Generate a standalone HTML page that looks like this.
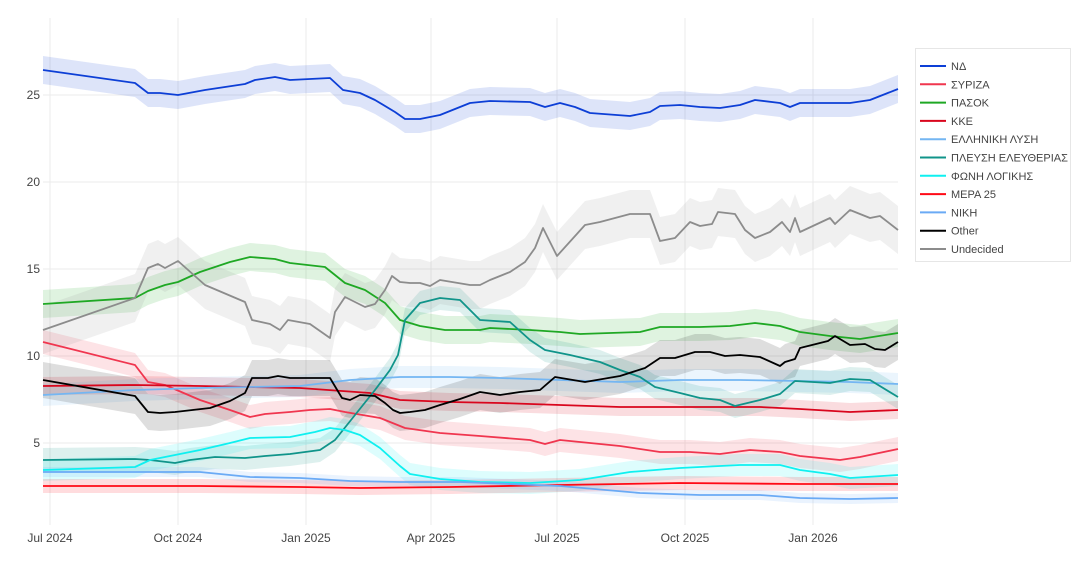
<!DOCTYPE html>
<html><head><meta charset="utf-8"><style>
body{margin:0;background:#fff;font-family:"Liberation Sans",sans-serif;}
svg text{font-family:"Liberation Sans","DejaVu Sans",sans-serif;font-size:12px;fill:#444;}
#leg text{font-size:11px;}
</style></head><body>
<svg id="s" width="1080" height="564" xmlns="http://www.w3.org/2000/svg">
<g stroke="#ebebeb" stroke-width="1">
<line x1="43" x2="898" y1="443" y2="443"/><line x1="43" x2="898" y1="356" y2="356"/>
<line x1="43" x2="898" y1="269" y2="269"/><line x1="43" x2="898" y1="182" y2="182"/>
<line x1="43" x2="898" y1="95" y2="95"/>
<line x1="50" x2="50" y1="18" y2="525"/><line x1="178" x2="178" y1="18" y2="525"/>
<line x1="306" x2="306" y1="18" y2="525"/><line x1="431" x2="431" y1="18" y2="525"/>
<line x1="557" x2="557" y1="18" y2="525"/><line x1="685" x2="685" y1="18" y2="525"/>
<line x1="813" x2="813" y1="18" y2="525"/>
</g>
<g text-anchor="end">
<text x="40" y="99">25</text><text x="40" y="186">20</text><text x="40" y="273">15</text>
<text x="40" y="360">10</text><text x="40" y="447">5</text>
</g>
<g text-anchor="middle">
<text x="50" y="542">Jul 2024</text><text x="178" y="542">Oct 2024</text><text x="306" y="542">Jan 2025</text>
<text x="431" y="542">Apr 2025</text><text x="557" y="542">Jul 2025</text><text x="685" y="542">Oct 2025</text>
<text x="813" y="542">Jan 2026</text>
</g>
<g id="bands"></g><g id="lines"></g>
<rect x="915.5" y="48.5" width="155" height="213" fill="#fff" stroke="#e6e6e6"/>
<g id="leg"></g>
</svg>
<script>
var S=[
["ΝΔ","#0d3fd6",14,[[43,70],[135,83],[148,93],[160,93],[178,95],[205,90],[245,84],[255,80],[275,77],[290,80],[330,78],[343,90],[360,93],[375,100],[395,112],[405,119],[420,119],[440,115],[470,103],[490,101],[530,102],[545,107],[560,103],[575,107],[590,113],[630,116],[650,112],[660,106],[680,105],[700,107],[720,108],[740,105],[755,100],[780,103],[790,107],[800,103],[830,103],[850,103],[870,100],[898,89]]],
["ΣΥΡΙΖΑ","#f0364f",12,[[43,342],[135,365],[148,382],[165,385],[200,400],[230,410],[250,417],[265,414],[290,412],[310,410],[330,409],[345,412],[380,418],[405,428],[440,433],[480,436],[530,440],[545,444],[560,440],[580,442],[620,446],[660,452],[690,452],[720,454],[750,450],[780,452],[800,456],[840,460],[860,457],[898,449]]],
["ΠΑΣΟΚ","#1fa824",14,[[43,304],[135,298],[148,291],[165,285],[178,282],[200,272],[230,262],[250,257],[275,259],[290,263],[325,267],[345,283],[365,290],[385,303],[400,320],[420,326],[445,330],[480,330],[490,328],[530,330],[560,332],[580,334],[640,332],[660,327],[700,327],[730,326],[755,323],[780,326],[800,332],[830,336],[860,339],[898,333]]],
["ΚΚΕ","#d9061d",9,[[43,386],[135,385],[200,386],[300,388],[370,393],[400,400],[450,402],[500,403],[560,405],[620,407],[700,407],[760,407],[800,409],[850,412],[898,410]]],
["ΕΛΛΗΝΙΚΗ ΛΥΣΗ","#74b6f2",11,[[43,395],[135,390],[200,388],[300,386],[350,380],[400,377],[450,377],[500,378],[560,380],[620,382],[680,380],[740,380],[800,381],[850,382],[898,384]]],
["ΠΛΕΥΣΗ ΕΛΕΥΘΕΡΙΑΣ","#10948a",12,[[43,460],[135,459],[150,460],[175,463],[190,460],[215,457],[245,458],[265,456],[290,454],[320,450],[335,440],[355,415],[375,390],[390,370],[398,355],[405,320],[420,303],[440,298],[460,300],[480,320],[510,322],[530,340],[545,350],[570,355],[600,362],[620,370],[640,377],[655,387],[680,393],[700,398],[720,400],[735,406],[760,400],[780,394],[795,381],[830,383],[850,379],[870,380],[898,397]]],
["ΦΩΝΗ ΛΟΓΙΚΗΣ","#0ff0f0",11,[[43,470],[135,467],[150,460],[175,455],[200,450],[230,443],[250,438],[290,437],[315,432],[330,428],[345,430],[360,435],[380,448],[400,466],[410,474],[440,479],[480,482],[530,483],[580,480],[630,472],[680,468],[740,465],[780,465],[800,470],[830,474],[850,478],[898,475]]],
["ΜΕΡΑ 25","#ff0a16",7,[[43,486],[200,486],[300,487],[360,488],[450,487],[560,485],[680,483],[800,484],[898,484]]],
["ΝΙΚΗ","#6aaaf5",5,[[43,472],[200,472],[250,477],[300,478],[350,481],[400,482],[460,482],[560,486],[640,493],[700,495],[760,495],[800,498],[850,499],[898,498]]],
["Other","#000000",18,[[43,380],[135,396],[148,412],[160,413],[175,412],[210,408],[230,401],[245,393],[252,378],[268,378],[278,376],[290,378],[330,378],[342,398],[350,400],[360,395],[375,396],[385,403],[393,410],[400,413],[410,412],[425,410],[440,405],[460,399],[480,392],[500,395],[520,392],[540,390],[555,377],[585,382],[620,376],[645,368],[660,358],[675,358],[695,352],[710,352],[725,356],[740,355],[760,357],[780,366],[785,362],[795,359],[800,348],[828,341],[835,336],[850,345],[865,344],[875,349],[885,350],[898,342]]],
["Undecided","#8c8c8c",24,[[43,330],[135,298],[148,268],[158,264],[165,268],[178,261],[205,285],[245,302],[252,320],[270,324],[280,330],[288,320],[310,324],[330,338],[335,312],[345,297],[355,302],[365,307],[375,304],[385,290],[392,276],[400,282],[410,283],[420,283],[430,286],[440,280],[470,285],[480,285],[490,280],[500,276],[510,272],[525,262],[535,248],[543,228],[557,256],[585,225],[600,222],[630,214],[650,214],[660,241],[675,238],[690,222],[700,226],[712,224],[718,212],[735,214],[745,230],[755,238],[770,232],[782,222],[790,232],[795,218],[800,232],[830,218],[835,224],[850,210],[870,218],[880,216],[898,230]]]
];
var NS="http://www.w3.org/2000/svg",B=document.getElementById("bands"),L=document.getElementById("lines"),G=document.getElementById("leg");
function el(t,a,p){var e=document.createElementNS(NS,t);for(var k in a)e.setAttribute(k,a[k]);p.appendChild(e);return e;}
S.forEach(function(s,i){
 var p=s[3],w=s[2],up=p.map(function(q){return q[0]+","+(q[1]-w);}),dn=p.slice().reverse().map(function(q){return q[0]+","+(q[1]+w);});
 el("polygon",{points:up.concat(dn).join(" "),fill:s[1],"fill-opacity":s[0]=="Other"||s[0]=="Undecided"?0.13:0.14,stroke:"none"},B);
 el("polyline",{points:p.map(function(q){return q.join(",");}).join(" "),fill:"none",stroke:s[1],"stroke-width":1.8,"stroke-linejoin":"round"},L);
 var y=66+i*18.3;
 el("line",{x1:920,x2:946,y1:y,y2:y,stroke:s[1],"stroke-width":2},G);
 var t=el("text",{x:951,y:y+4},G);t.textContent=s[0];
});
</script>
</body></html>
